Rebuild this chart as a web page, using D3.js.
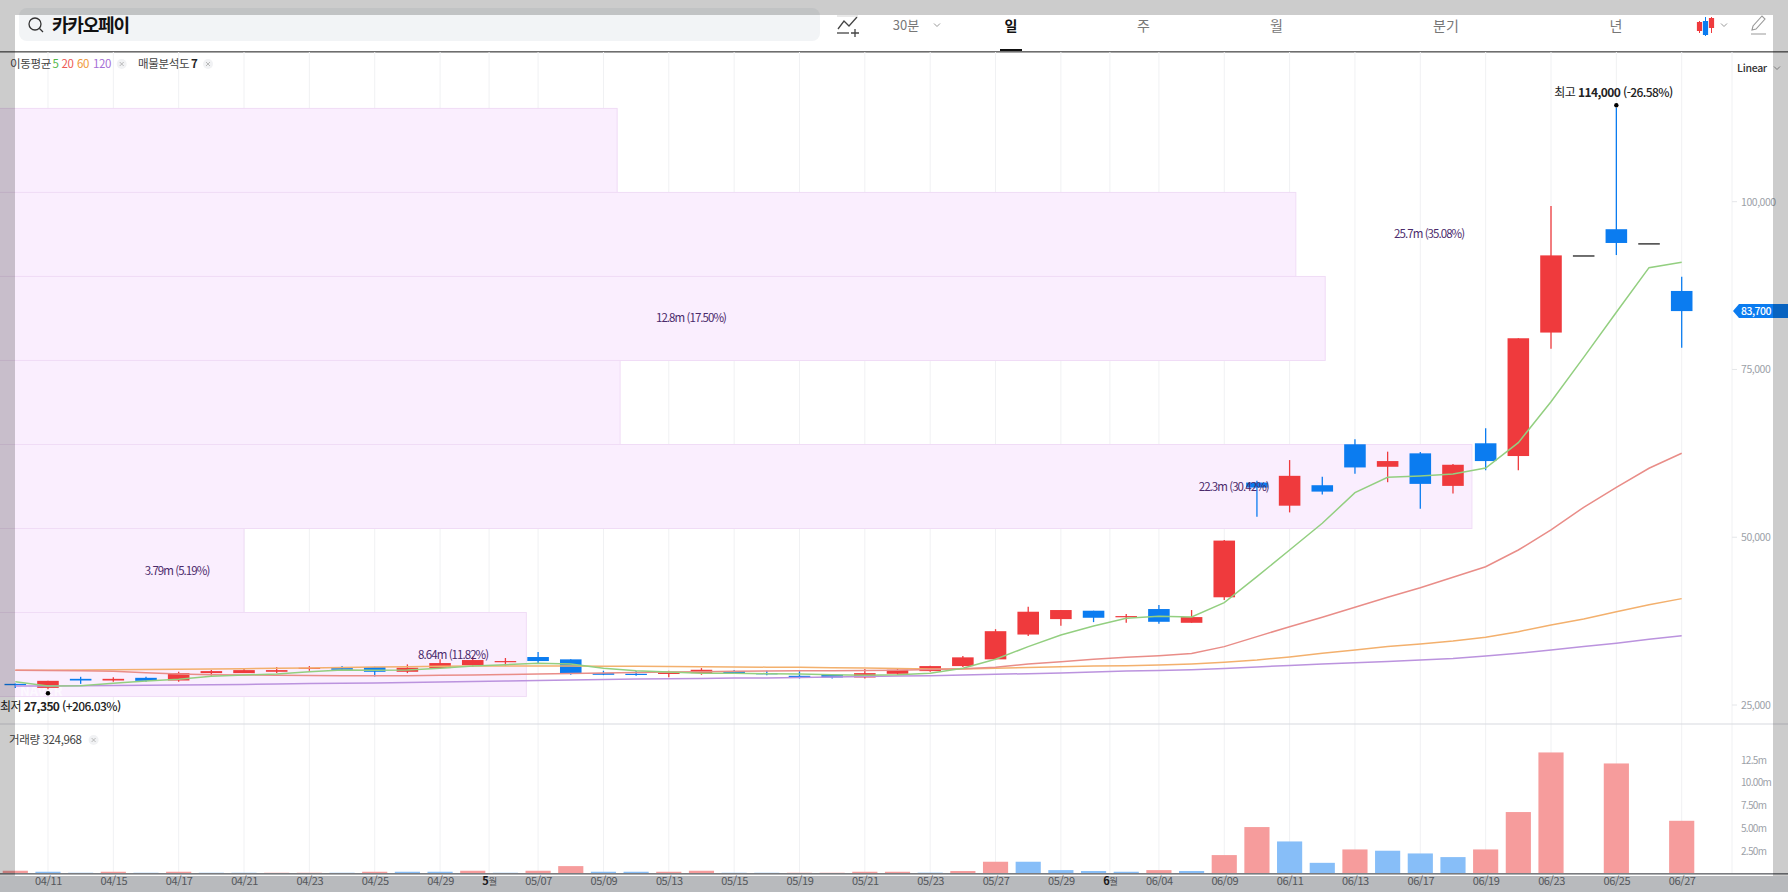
<!DOCTYPE html>
<html lang="ko"><head><meta charset="utf-8">
<style>
html,body{margin:0;padding:0;background:#fff;overflow:hidden}
svg{display:block;font-family:"Noto Sans CJK KR","Noto Sans",sans-serif}
</style>
<script src="https://cdn.jsdelivr.net/npm/d3@7/dist/d3.min.js"></script>
</head><body><svg id="c" width="1788" height="892"></svg>
<script>
const dates=["04/10","04/11","04/14","04/15","04/16","04/17","04/18","04/21","04/22","04/23","04/24","04/25","04/28","04/29","04/30","05/02","05/07","05/08","05/09","05/12","05/13","05/14","05/15","05/16","05/19","05/20","05/21","05/22","05/23","05/26","05/27","05/28","05/29","05/30","06/02","06/04","06/05","06/09","06/10","06/11","06/12","06/13","06/16","06/17","06/18","06/19","06/20","06/23","06/24","06/25","06/26","06/27"];
const opens=[28150,27550,28900,28650,29050,28650,29750,29750,29950,30400,30500,30650,29950,30500,30950,31400,32150,31800,29750,29650,29650,29750,30050,29750,29350,29500,29100,29650,30050,30800,31800,35500,37800,39050,38100,39300,37250,41050,58150,54700,57750,63850,60500,62500,57650,64000,62100,80500,92000,95900,93800,86700];
const highs=[28200,28600,29200,29150,29200,29950,30200,30350,30650,30800,30800,30700,31050,31800,32200,32000,32900,31800,30100,30050,30100,30500,30200,30100,30050,29600,30350,30500,30850,32300,36300,39650,39150,39050,38550,39900,39150,49600,58400,61500,59000,64600,62750,62700,60900,66250,79650,99350,92000,114000,93800,88800];
const lows=[27550,27350,28150,28450,28450,28450,29350,29750,29750,30100,30100,29250,29750,30350,30650,30850,31200,29500,29450,29350,29150,29500,29650,29450,28950,28950,28950,29500,29950,30650,31800,35300,36800,37350,37250,37100,37250,40650,53050,53700,56350,59450,58200,54250,56500,60000,60000,78100,92000,92050,93800,78250];
const closes=[27950,28600,28650,28900,28600,29750,30050,30200,30200,30550,30250,29950,30550,31250,31700,31550,31550,29750,29500,29500,29800,30250,29750,29650,29150,29100,29750,30250,30800,32100,36000,38900,39150,38000,38250,37400,38100,49500,57400,59150,56800,60400,61350,57950,60800,61350,79650,92000,92000,93850,93800,83700];
const ma5=[28480,27840,27880,28240,28580,28840,29280,29480,29630,29970,30220,30180,30220,30480,30820,31010,31220,31120,30480,30120,29920,29730,29730,29670,29630,29520,29430,29520,29730,30480,31820,33700,35440,36780,37930,38220,38120,40250,44120,48100,52080,56640,58930,59130,59430,60320,64090,70200,76810,83520,90170,90970];
const ma20=[30180,30150,30120,30030,29820,29630,29520,29480,29430,29400,29370,29370,29370,29430,29480,29550,29630,29700,29780,29850,29920,29970,30030,30070,30100,30120,30150,30180,30300,30400,30630,31120,31460,31820,32110,32350,32680,33700,35190,36670,38070,39560,41050,42480,44030,45610,48100,51080,54460,57440,60280,62510];
const ma60=[30180,30190,30220,30250,30300,30330,30370,30420,30480,30520,30600,30670,30715,30770,30820,30820,30820,30820,30790,30760,30730,30700,30670,30640,30625,30565,30520,30450,30370,30370,30480,30600,30715,30820,30860,30970,31120,31370,31710,32160,32710,33200,33700,34100,34540,35090,35930,36930,37820,38910,39950,40850];
const ma120=[27840,27840,27870,27900,27940,27990,28020,28060,28140,28200,28240,28290,28360,28430,28510,28580,28660,28730,28810,28880,28930,28960,29030,29030,29100,29180,29250,29330,29370,29480,29580,29670,29780,29920,30070,30150,30270,30450,30670,30890,31120,31300,31490,31710,31940,32310,32710,33200,33700,34200,34800,35330];
const volumes=[0.33,0.22,0.11,0.22,0.11,0.22,0.11,0.11,0.11,0.11,0.11,0.22,0.22,0.22,0.33,0.11,0.33,0.84,0.22,0.22,0.22,0.33,0.11,0.11,0.11,0.11,0.22,0.22,0.12,0.3,1.32,1.32,0.4,0.3,0.22,0.4,0.3,2.05,5.13,3.55,1.2,2.67,2.53,2.23,1.83,2.67,6.78,13.33,0,12.12,0,5.82];
const volumeUp=[1,0,0,1,0,1,0,0,1,1,0,1,0,0,1,0,1,1,0,0,1,1,0,0,1,1,1,1,0,1,1,0,0,0,0,1,0,1,1,0,0,1,0,0,0,1,1,1,1,1,1,1];
const axisTickIndex=[1,3,5,7,9,11,13,14.5,16,18,20,22,24,26,28,30,32,33.5,35,37,39,41,43,45,47,49,51];
const axisTickLabels=["04/11","04/15","04/17","04/21","04/23","04/25","04/29","5월","05/07","05/09","05/13","05/15","05/19","05/21","05/23","05/27","05/29","6월","06/04","06/09","06/11","06/13","06/17","06/19","06/23","06/25","06/27"];
const priceTicks=[25000,50000,75000,100000];
const volumeTicks=[2.5,5,7.5,10,12.5];
const volumeTickLabels=["2.50m","5.00m","7.50m","10.00m","12.5m"];
const profileEdges=[113900,101380,88860,76340,63820,51300,38780,26260];
const profileEnd=[18.42,39.19,40.09,18.51,44.58,7.0,15.64];
const profileLabels=["","25.7m (35.08%)","12.8m (17.50%)","","22.3m (30.42%)","3.79m (5.19%)","8.64m (11.82%)"];
const profileLabelAt=[0,43.27,20.68,0,37.29,4.95,13.4];
const lastPrice=83700, maxPrice=114000, minPrice=27350, lastVolume="324,968";
const tabs=["일","주","월","분기","년"], tabIndexAt=[1011,1143.5,1276.5,1446,1616];

const RED="#ef3a3d",BLUE="#0b7cf0",TICK="#9ca1a8";
const svg=d3.select("#c");
const x=d3.scaleLinear().domain([0,51]).range([15.3,1681.7]);
const y=d3.scaleLinear().domain([25000,100000]).range([705,201.7]);
const yv=d3.scaleLinear().domain([0,12.5]).range([873.75,760]);
const step=x(1)-x(0);

/* header */
svg.append("rect").attr("x",19).attr("y",8).attr("width",801).attr("height",33).attr("rx",8).attr("fill","#f2f4f6");
const ic=svg.append("g").attr("fill","none").attr("stroke","#333").attr("stroke-width",1.3);
ic.append("circle").attr("cx",35).attr("cy",24).attr("r",6);
ic.append("line").attr("x1",39.5).attr("y1",28.5).attr("x2",43).attr("y2",32);
svg.append("text").attr("x",52).attr("y",32).attr("font-size",18).attr("font-weight",700).attr("letter-spacing",-1.2).attr("fill","#111").text("카카오페이");
const lp=svg.append("g").attr("fill","none").attr("stroke","#444").attr("stroke-width",1.3);
lp.append("path").attr("d",d3.line()([[838,29],[844,21],[849,26],[857,17]]));
lp.append("line").attr("x1",837).attr("y1",16).attr("x2",858).attr("y2",16).attr("stroke","#ddd");
lp.append("line").attr("x1",837).attr("y1",33).attr("x2",849).attr("y2",33);
lp.append("path").attr("d","M855 29v8M851 33h8");
svg.append("text").attr("x",906).attr("y",30).attr("text-anchor","middle").attr("font-size",13).attr("fill","#777").text("30분");
const chev=(cx,cy)=>svg.append("path").attr("d",`M${cx-3} ${cy-1.5}L${cx} ${cy+1.5}L${cx+3} ${cy-1.5}`).attr("fill","none").attr("stroke","#999").attr("stroke-width",1);
chev(937,25);
tabs.forEach((t,i)=>svg.append("text").attr("x",tabIndexAt[i]).attr("y",31).attr("text-anchor","middle").attr("font-size",14).attr("font-weight",i===0?700:400).attr("fill",i===0?"#111":"#777").text(t));
svg.append("rect").attr("x",1000).attr("y",49).attr("width",22).attr("height",3).attr("fill","#111");
const ci=svg.append("g");
[[1699.5,RED,21,33,22,31],[1705.5,BLUE,17,36,21,35],[1711.5,RED,17,33,18,28]].forEach(([cx,c,a,b,p,q])=>{
  ci.append("line").attr("x1",cx).attr("x2",cx).attr("y1",a).attr("y2",b).attr("stroke",c).attr("stroke-width",1);
  ci.append("rect").attr("x",cx-2.6).attr("y",p).attr("width",5.2).attr("height",q-p).attr("fill",c);
});
chev(1724,25);
svg.append("path").attr("d","M1752 30l1-4 9-10 3 3-9 10zM1751 34h15").attr("fill","none").attr("stroke","#999").attr("stroke-width",1.1);
svg.append("rect").attr("x",0).attr("y",51).attr("width",1788).attr("height",1.6).attr("fill","#6e6e6e");

/* gridlines */
svg.append("g").selectAll("line").data(axisTickIndex).join("line")
  .attr("x1",d=>x(d)).attr("x2",d=>x(d)).attr("y1",52).attr("y2",874).attr("stroke","#f0f1f3");
svg.append("line").attr("x1",1732).attr("x2",1732).attr("y1",52).attr("y2",874).attr("stroke","#f0f1f3");

/* price profile */
const prof=svg.append("g");
profileEnd.forEach((e,i)=>{
  prof.append("rect").attr("x",-2).attr("y",y(profileEdges[i])).attr("width",x(e)+2)
    .attr("height",y(profileEdges[i+1])-y(profileEdges[i]))
    .attr("fill","#faedfe").attr("fill-opacity",.95).attr("stroke","#f0dcf6").attr("stroke-width",1);
});
svg.append("text").attr("x",20).attr("y",696).attr("font-size",13).attr("font-weight",700).attr("fill","#fff").attr("fill-opacity",.6).text("NAVER");

/* candles */
const color=i=>closes[i]===opens[i]?"#111":(closes[i]>opens[i]?RED:BLUE);
const idx=d3.range(dates.length);
const can=svg.append("g");
can.selectAll("line").data(idx).join("line")
  .attr("x1",i=>x(i)).attr("x2",i=>x(i)).attr("y1",i=>y(highs[i])).attr("y2",i=>y(lows[i]))
  .attr("stroke",color).attr("stroke-width",1.3);
can.selectAll("rect").data(idx).join("rect")
  .attr("x",i=>x(i)-step*.33).attr("width",step*.66)
  .attr("y",i=>y(Math.max(opens[i],closes[i])))
  .attr("height",i=>Math.max(1.2,Math.abs(y(opens[i])-y(closes[i]))))
  .attr("fill",color);

/* moving averages */
const line=d3.line().x((d,i)=>x(i)).y(d=>y(d));
[[ma120,"#bb93de"],[ma60,"#f3b06d"],[ma20,"#e98d88"],[ma5,"#93cf80"]].forEach(([s,c])=>
  svg.append("path").attr("d",line(s)).attr("fill","none").attr("stroke",c).attr("stroke-width",1.5));

/* volume */
svg.append("line").attr("x1",0).attr("x2",1788).attr("y1",724).attr("y2",724).attr("stroke","#d8d9e0").attr("stroke-width",1.2);
svg.append("g").selectAll("rect").data(idx.filter(i=>volumes[i]>0)).join("rect")
  .attr("x",i=>x(i)-step*.385).attr("width",step*.77)
  .attr("y",i=>yv(volumes[i])).attr("height",i=>yv(0)-yv(volumes[i]))
  .attr("fill",i=>volumeUp[i]?"#f69c9c":"#87bef8");
svg.append("rect").attr("x",0).attr("y",873).attr("width",1788).attr("height",1.6).attr("fill","#7a7c80");

/* axes */
svg.append("rect").attr("x",0).attr("y",876).attr("width",1788).attr("height",16).attr("fill","#e6e9ed");
const style=(g,size,ls)=>{g.select(".domain").remove();g.selectAll(".tick line").remove();
  g.selectAll("text").attr("font-size",size).attr("font-family",'"Noto Sans CJK KR"').attr("letter-spacing",ls);};
const gx=svg.append("g").attr("transform","translate(0,873)")
  .call(d3.axisBottom(x).tickValues(axisTickIndex).tickFormat((d,i)=>axisTickLabels[i]).tickSize(0).tickPadding(4));
style(gx,11,-.4);
gx.selectAll("text").attr("fill","#6a6d72").each(function(d,i){
  const t=axisTickLabels[i];
  if(t.includes("월")){const s=d3.select(this).text(null);
    s.append("tspan").attr("font-weight",700).attr("fill","#222").text(t[0]);
    s.append("tspan").attr("font-size",9.5).text(t.slice(1));}
});
const gy=svg.append("g").attr("transform","translate(1741,0)")
  .call(d3.axisRight(y).tickValues(priceTicks).tickFormat(d3.format(",")).tickSize(0).tickPadding(0));
style(gy,10.5,-.45);gy.selectAll("text").attr("fill",TICK);
const gv=svg.append("g").attr("transform","translate(1741,0)")
  .call(d3.axisRight(yv).tickValues(volumeTicks).tickFormat((d,i)=>volumeTickLabels[i]).tickSize(0).tickPadding(0));
style(gv,10,-.7);gv.selectAll("text").attr("fill",TICK);
svg.append("g").selectAll("line").data(priceTicks).join("line")
  .attr("x1",1732).attr("x2",1737).attr("y1",d=>y(d)).attr("y2",d=>y(d)).attr("stroke","#e4e6e9");

/* last-price tag */
const ly=y(lastPrice);
svg.append("path").attr("d",`M1733 ${ly}L1739 ${ly-7}H1788V${ly+7}H1739Z`).attr("fill",BLUE);
svg.append("text").attr("x",1741).attr("y",ly+4).attr("font-size",10.5).attr("font-weight",500).attr("letter-spacing",-.5).attr("fill","#fff").text(d3.format(",")(lastPrice));

/* hi / lo */
const iMax=highs.indexOf(maxPrice),iMin=lows.indexOf(minPrice);
svg.append("circle").attr("cx",x(iMax)).attr("cy",y(maxPrice)-2.5).attr("r",2.2).attr("fill","#000");
svg.append("circle").attr("cx",x(iMin)).attr("cy",y(minPrice)+4).attr("r",2.2).attr("fill","#000");
const hi=svg.append("text").attr("x",1613.5).attr("y",97).attr("text-anchor","middle").attr("font-size",12).attr("letter-spacing",-.6).attr("fill","#222");
hi.append("tspan").text("최고 ");hi.append("tspan").attr("font-weight",700).text(d3.format(",")(maxPrice));hi.append("tspan").attr("font-weight",500).text(" (-26.58%)");
const lo=svg.append("text").attr("x",0).attr("y",711).attr("font-size",12).attr("letter-spacing",-.6).attr("fill","#222");
lo.append("tspan").text("최저 ");lo.append("tspan").attr("font-weight",700).text(d3.format(",")(minPrice));lo.append("tspan").attr("font-weight",500).text(" (+206.03%)");

/* profile labels */
profileLabels.forEach((t,i)=>{ if(!t) return;
  svg.append("text").attr("x",x(profileLabelAt[i])).attr("y",(y(profileEdges[i])+y(profileEdges[i+1]))/2+4)
    .attr("text-anchor","middle").attr("font-size",11.5).attr("letter-spacing",-.95).attr("fill","#4b2a6b").text(t);
});

/* legends */
const L=(tx,ty,t,c,w)=>svg.append("text").attr("x",tx).attr("y",ty).attr("font-size",11.5).attr("letter-spacing",-.35).attr("fill",c).attr("font-weight",w||400).text(t);
const X=(cx,cy)=>{svg.append("circle").attr("cx",cx).attr("cy",cy).attr("r",5).attr("fill","#f1f2f4");
  svg.append("path").attr("d",`M${cx-2} ${cy-2}L${cx+2} ${cy+2}M${cx+2} ${cy-2}L${cx-2} ${cy+2}`).attr("stroke","#aaa").attr("stroke-width",.8);};
L(10,68,"이동평균","#444");L(52.5,68,"5","#54b84a");L(61.5,68,"20","#ee5a55");L(77,68,"60","#f0983a");L(93,68,"120","#a66fd6");X(121.7,64);
L(138,68,"매물분석도","#444");L(191,68,"7","#222",700);X(208,64);
L(9,744,"거래량 "+lastVolume,"#444");X(93.6,740);
svg.append("text").attr("x",1752).attr("y",72).attr("text-anchor","middle").attr("font-size",10.5).attr("font-weight",500).attr("letter-spacing",-.3).attr("fill","#333").text("Linear");
chev(1777,68);

/* outer dim frame */
svg.append("path").attr("fill-rule","evenodd").attr("fill","#000").attr("fill-opacity",.2)
  .attr("d","M0 0H1788V892H0ZM15 15V876H1773V15Z");
</script></body></html>
